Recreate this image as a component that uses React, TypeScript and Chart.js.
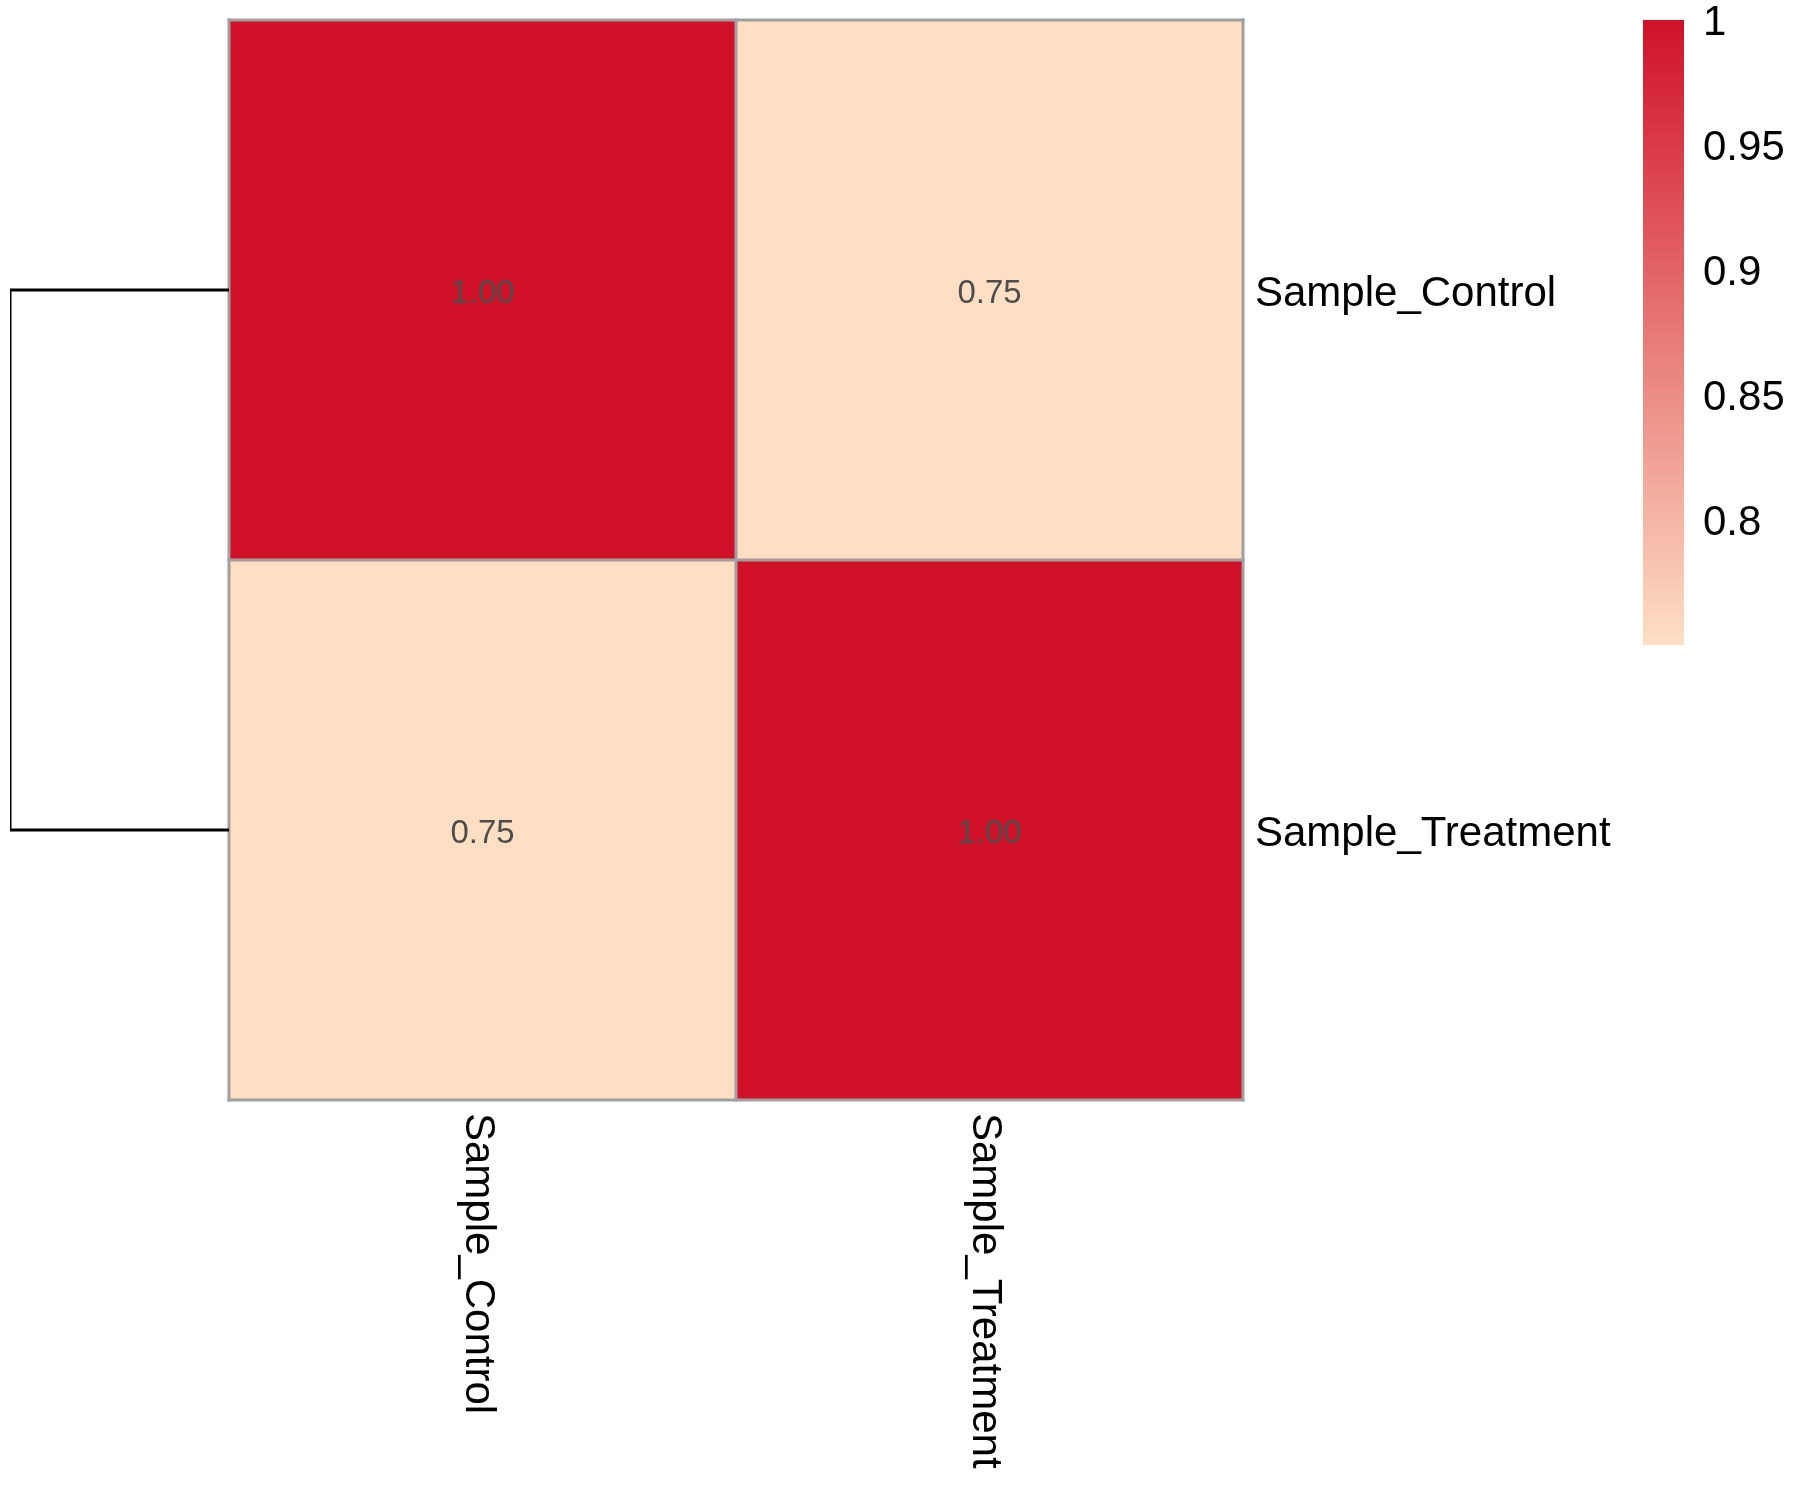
import React, { useEffect, useRef } from 'react';
import { Chart, registerables } from 'chart.js';

Chart.register(...registerables);

// ---------- data ----------
const sampleNames = ['Sample_Control', 'Sample_Treatment'];
const controlRow = [1.0, 0.75];
const treatmentRow = [0.75, 1.0];
const matrixRows = [controlRow, treatmentRow];
const mergeHeights = [0.25]; // dendrogram merge height (1 - correlation)
const legendTicks = [1, 0.95, 0.9, 0.85, 0.8];
const colorRange = [0.75, 1.0];

// ---------- styling ----------
const FONT = '"Liberation Sans", Arial, Helvetica, sans-serif';
const LOW = [254, 223, 195];
const HIGH = [208, 17, 40];
const CAP = 0.716;

function colorFor(v: number): string {
  const t = Math.max(0, Math.min(1, (v - colorRange[0]) / (colorRange[1] - colorRange[0])));
  const c = LOW.map((l, i) => Math.round(l + (HIGH[i] - l) * t));
  return `rgb(${c[0]},${c[1]},${c[2]})`;
}

const heatmapDecor = {
  id: 'heatmapDecor',
  afterDatasetsDraw(chart: any) {
    const { ctx, chartArea } = chart;
    const xs = chart.scales.x;
    const ys = chart.scales.y;
    const n = sampleNames.length;
    const colEdges: number[] = [];
    for (let i = 0; i <= n; i++) {
      if (i === 0) colEdges.push(chartArea.left);
      else if (i === n) colEdges.push(chartArea.right);
      else colEdges.push((xs.getPixelForValue(i - 1) + xs.getPixelForValue(i)) / 2);
    }
    const rowEdges: number[] = [];
    for (let r = 0; r <= n; r++) rowEdges.push(ys.getPixelForValue(r));

    ctx.save();
    // grid
    ctx.strokeStyle = '#a0a0a0';
    ctx.lineWidth = 3;
    ctx.lineCap = 'square';
    for (let i = 0; i <= n; i++) {
      ctx.beginPath();
      ctx.moveTo(colEdges[i], rowEdges[0]);
      ctx.lineTo(colEdges[i], rowEdges[n]);
      ctx.stroke();
      ctx.beginPath();
      ctx.moveTo(colEdges[0], rowEdges[i]);
      ctx.lineTo(colEdges[n], rowEdges[i]);
      ctx.stroke();
    }

    // cell values
    const cellSize = 33;
    ctx.font = `${cellSize}px ${FONT}`;
    ctx.fillStyle = '#4d4d4d';
    ctx.textAlign = 'center';
    ctx.textBaseline = 'alphabetic';
    for (let r = 0; r < n; r++) {
      const cy = (rowEdges[r] + rowEdges[r + 1]) / 2;
      for (let c = 0; c < n; c++) {
        const cx = xs.getPixelForValue(c);
        ctx.fillText(matrixRows[r][c].toFixed(2), cx, cy + (CAP * cellSize) / 2 + 1);
      }
    }

    // row labels
    const lab = 42;
    ctx.font = `${lab}px ${FONT}`;
    ctx.fillStyle = '#000000';
    ctx.textAlign = 'left';
    for (let r = 0; r < n; r++) {
      const cy = (rowEdges[r] + rowEdges[r + 1]) / 2;
      ctx.fillText(sampleNames[r], chartArea.right + 12, cy + (CAP * lab) / 2 + 1);
    }

    // column labels (rotated clockwise)
    for (let c = 0; c < n; c++) {
      const cx = xs.getPixelForValue(c);
      ctx.save();
      ctx.translate(cx - (CAP * lab) / 2 - 1, chartArea.bottom + 13);
      ctx.rotate(Math.PI / 2);
      ctx.textAlign = 'left';
      ctx.fillText(sampleNames[c], 0, 0);
      ctx.restore();
    }
    ctx.restore();
  },
};

export default function App() {
  const mainRef = useRef<HTMLCanvasElement>(null);
  const dendroRef = useRef<HTMLCanvasElement>(null);
  const barRef = useRef<HTMLCanvasElement>(null);

  useEffect(() => {
    const charts: Chart[] = [];
    const n = sampleNames.length;

    // heatmap
    charts.push(
      new Chart(mainRef.current as HTMLCanvasElement, {
        type: 'bar',
        data: {
          labels: sampleNames,
          datasets: matrixRows.map((row, r) => ({
            label: sampleNames[r],
            data: row.map(() => [r, r + 1]) as any,
            backgroundColor: row.map((v) => colorFor(v)),
            borderWidth: 0,
            grouped: false,
            barPercentage: 1,
            categoryPercentage: 1,
          })),
        },
        options: {
          animation: false,
          responsive: false,
          devicePixelRatio: 1,
          events: [],
          layout: { padding: { left: 229, top: 20, right: 557, bottom: 400 } },
          plugins: { legend: { display: false }, tooltip: { enabled: false } },
          scales: {
            x: { type: 'category', display: false, offset: true },
            y: { type: 'linear', display: false, min: 0, max: n, reverse: true },
          },
        },
        plugins: [heatmapDecor],
      } as any)
    );

    // dendrogram
    const h = mergeHeights[0];
    charts.push(
      new Chart(dendroRef.current as HTMLCanvasElement, {
        type: 'scatter',
        data: {
          datasets: [
            {
              data: [
                { x: 0, y: 0.5 },
                { x: h, y: 0.5 },
                { x: h, y: 1.5 },
                { x: 0, y: 1.5 },
              ],
              showLine: true,
              borderColor: '#000000',
              borderWidth: 3,
              borderJoinStyle: 'miter',
              borderCapStyle: 'butt',
              pointRadius: 0,
              tension: 0,
            },
          ],
        },
        options: {
          animation: false,
          responsive: false,
          devicePixelRatio: 1,
          events: [],
          layout: { padding: { left: 10, top: 20, right: 11, bottom: 400 } },
          plugins: { legend: { display: false }, tooltip: { enabled: false } },
          scales: {
            x: { type: 'linear', display: false, min: 0, max: h, reverse: true },
            y: { type: 'linear', display: false, min: 0, max: n, reverse: true },
          },
        },
      } as any)
    );

    // colour bar legend
    charts.push(
      new Chart(barRef.current as HTMLCanvasElement, {
        type: 'bar',
        data: {
          labels: ['scale'],
          datasets: [
            {
              data: [[colorRange[0], colorRange[1]]] as any,
              borderWidth: 0,
              barPercentage: 1,
              categoryPercentage: 1,
              backgroundColor: (context: any) => {
                const chart = context.chart;
                const ys = chart.scales.y;
                if (!chart.chartArea || !ys) return colorFor(colorRange[1]);
                const y0 = ys.getPixelForValue(colorRange[0]);
                const y1 = ys.getPixelForValue(colorRange[1]);
                const g = chart.ctx.createLinearGradient(0, y0, 0, y1);
                const steps = 10;
                for (let i = 0; i <= steps; i++) {
                  const v = colorRange[0] + ((colorRange[1] - colorRange[0]) * i) / steps;
                  g.addColorStop(i / steps, colorFor(v));
                }
                return g;
              },
            },
          ],
        },
        options: {
          animation: false,
          responsive: false,
          devicePixelRatio: 1,
          events: [],
          layout: { padding: { left: 0, top: 120, right: 0, bottom: 855 } },
          plugins: { legend: { display: false }, tooltip: { enabled: false } },
          scales: {
            x: { type: 'category', display: false, offset: true },
            y: {
              type: 'linear',
              position: 'right',
              min: colorRange[0],
              max: colorRange[1],
              grid: { display: false, drawTicks: false },
              border: { display: false },
              ticks: {
                color: '#000000',
                padding: 19,
                labelOffset: 3,
                font: { family: FONT, size: 42 },
                callback: (v: any) => String(Number(v)),
              },
              afterBuildTicks: (scale: any) => {
                scale.ticks = legendTicks.map((v) => ({ value: v }));
              },
              afterFit: (scale: any) => {
                scale.width = 116;
              },
            },
          },
        },
      } as any)
    );

    return () => charts.forEach((c) => c.destroy());
  }, []);

  const abs = (left: number, top: number, w: number, hgt: number): React.CSSProperties => ({
    position: 'absolute',
    left,
    top,
    width: w,
    height: hgt,
  });

  return (
    <div style={{ position: 'absolute', left: 0, top: 0, width: 1800, height: 1500, background: '#ffffff' }}>
      <div style={abs(0, 0, 1800, 1500)}>
        <canvas ref={mainRef} width={1800} height={1500} style={{ display: 'block', width: 1800, height: 1500 }} />
      </div>
      <div style={abs(0, 0, 240, 1500)}>
        <canvas ref={dendroRef} width={240} height={1500} style={{ display: 'block', width: 240, height: 1500 }} />
      </div>
      <div style={abs(1643, -100, 157, 1600)}>
        <canvas ref={barRef} width={157} height={1600} style={{ display: 'block', width: 157, height: 1600 }} />
      </div>
    </div>
  );
}
